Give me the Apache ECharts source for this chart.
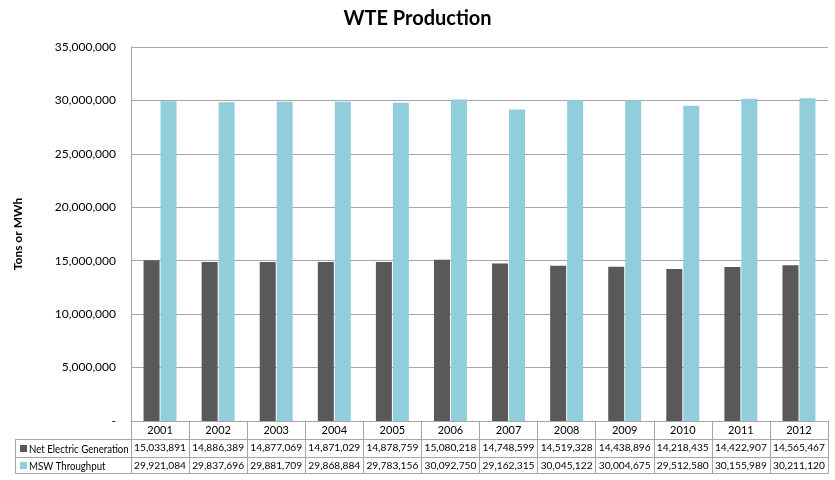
<!DOCTYPE html>
<html><head><meta charset="utf-8">
<script src="https://cdn.jsdelivr.net/npm/echarts@6/dist/echarts.min.js"></script>
<style>html,body{margin:0;padding:0;background:#fff}#c{width:835px;height:480px}</style>
</head><body><div id="c"></div>
<script>
const years = ['2001','2002','2003','2004','2005','2006','2007','2008','2009','2010','2011','2012'];
const netElectric = [15033891,14886389,14877069,14871029,14878759,15080218,14748599,14519328,14438896,14218435,14422907,14565467];
const mswThroughput = [29921084,29837696,29881709,29868884,29783156,30092750,29162315,30045122,30004675,29512580,30155989,30211120];
const seriesNames = ['Net Electric Generation','MSW Throughput'];
const colors = ['#595959','#92CDDC'];

const FONT = 'Lato, "Open Sans", sans-serif';
const GRID_C = '#a6a6a6';
const fmt = v => v.toLocaleString('en-US');

const chart = echarts.init(document.getElementById('c'), null, {renderer:'canvas'});
const gridL = 131, gridR = 7, gridT = 47, gridB = 59;
const baseY = 480 - gridB;

function tableAxis(offset, labels, showLabel) {
  return {
    type:'category', data: years, position:'bottom', offset: offset,
    axisLine:{show:true, lineStyle:{color:GRID_C, width:1}},
    axisTick:{show:false},
    axisLabel:{show:showLabel, interval:0, margin:4, fontFamily:FONT, fontSize:10.2, color:'#000',
      formatter:(v, i) => labels ? fmt(labels[i]) : v},
    splitLine:{show:false}
  };
}

const option = {
  backgroundColor:'#fff',
  animation:false,
  title:{text:'WTE Production', left:'center', top:4,
    textStyle:{fontFamily:FONT, fontSize:20, fontWeight:'bold', color:'#000'}},
  grid:{left:gridL, right:gridR, top:gridT, bottom:gridB, containLabel:false},
  xAxis:[
    {type:'category', data:years, position:'bottom',
      axisLine:{show:true, lineStyle:{color:GRID_C}},
      axisTick:{show:true, alignWithLabel:false, interval:0, length:52, lineStyle:{color:GRID_C}},
      axisLabel:{interval:0, margin:4, fontFamily:FONT, fontSize:11, color:'#000'},
      splitLine:{show:false}},
    tableAxis(18, netElectric, true),
    tableAxis(36, mswThroughput, true),
    tableAxis(52, null, false)
  ],
  yAxis:{type:'value', min:0, max:35000000, interval:5000000,
    name:'Tons or MWh', nameLocation:'middle', nameGap:107, nameRotate:90,
    nameTextStyle:{fontFamily:FONT, fontSize:12, fontWeight:'bold', color:'#000'},
    axisLine:{show:true, lineStyle:{color:GRID_C}},
    axisTick:{show:false},
    axisLabel:{margin:15, fontFamily:FONT, fontSize:12, color:'#000',
      formatter: v => v === 0 ? '-' : fmt(v)},
    splitLine:{show:true, lineStyle:{color:GRID_C, width:1}}},
  series:[
    {name:seriesNames[0], type:'bar', data:netElectric, barWidth:16, barGap:'6%',
      itemStyle:{color:colors[0]}},
    {name:seriesNames[1], type:'bar', data:mswThroughput, barWidth:16, barGap:'6%',
      itemStyle:{color:colors[1]}}
  ],
  graphic:[
    {type:'line', shape:{x1:15, y1:baseY+18.5, x2:gridL, y2:baseY+18.5}, style:{stroke:GRID_C, lineWidth:1}},
    {type:'line', shape:{x1:15, y1:baseY+36.5, x2:gridL, y2:baseY+36.5}, style:{stroke:GRID_C, lineWidth:1}},
    {type:'line', shape:{x1:15, y1:baseY+52.5, x2:gridL, y2:baseY+52.5}, style:{stroke:GRID_C, lineWidth:1}},
    {type:'line', shape:{x1:15.5, y1:baseY+18.5, x2:15.5, y2:baseY+52.5}, style:{stroke:GRID_C, lineWidth:1}},
    {type:'rect', shape:{x:20, y:baseY+24, width:7, height:7}, style:{fill:colors[0]}},
    {type:'rect', shape:{x:20, y:baseY+41, width:7, height:7}, style:{fill:colors[1]}},
    {type:'text', x:29, y:baseY+28, scaleX:0.84, style:{text:seriesNames[0], fontFamily:FONT, fontSize:11.5, fill:'#000', verticalAlign:'middle'}},
    {type:'text', x:29, y:baseY+45, scaleX:0.84, style:{text:seriesNames[1], fontFamily:FONT, fontSize:11.5, fill:'#000', verticalAlign:'middle'}}
  ]
};
chart.setOption(option);
</script></body></html>
